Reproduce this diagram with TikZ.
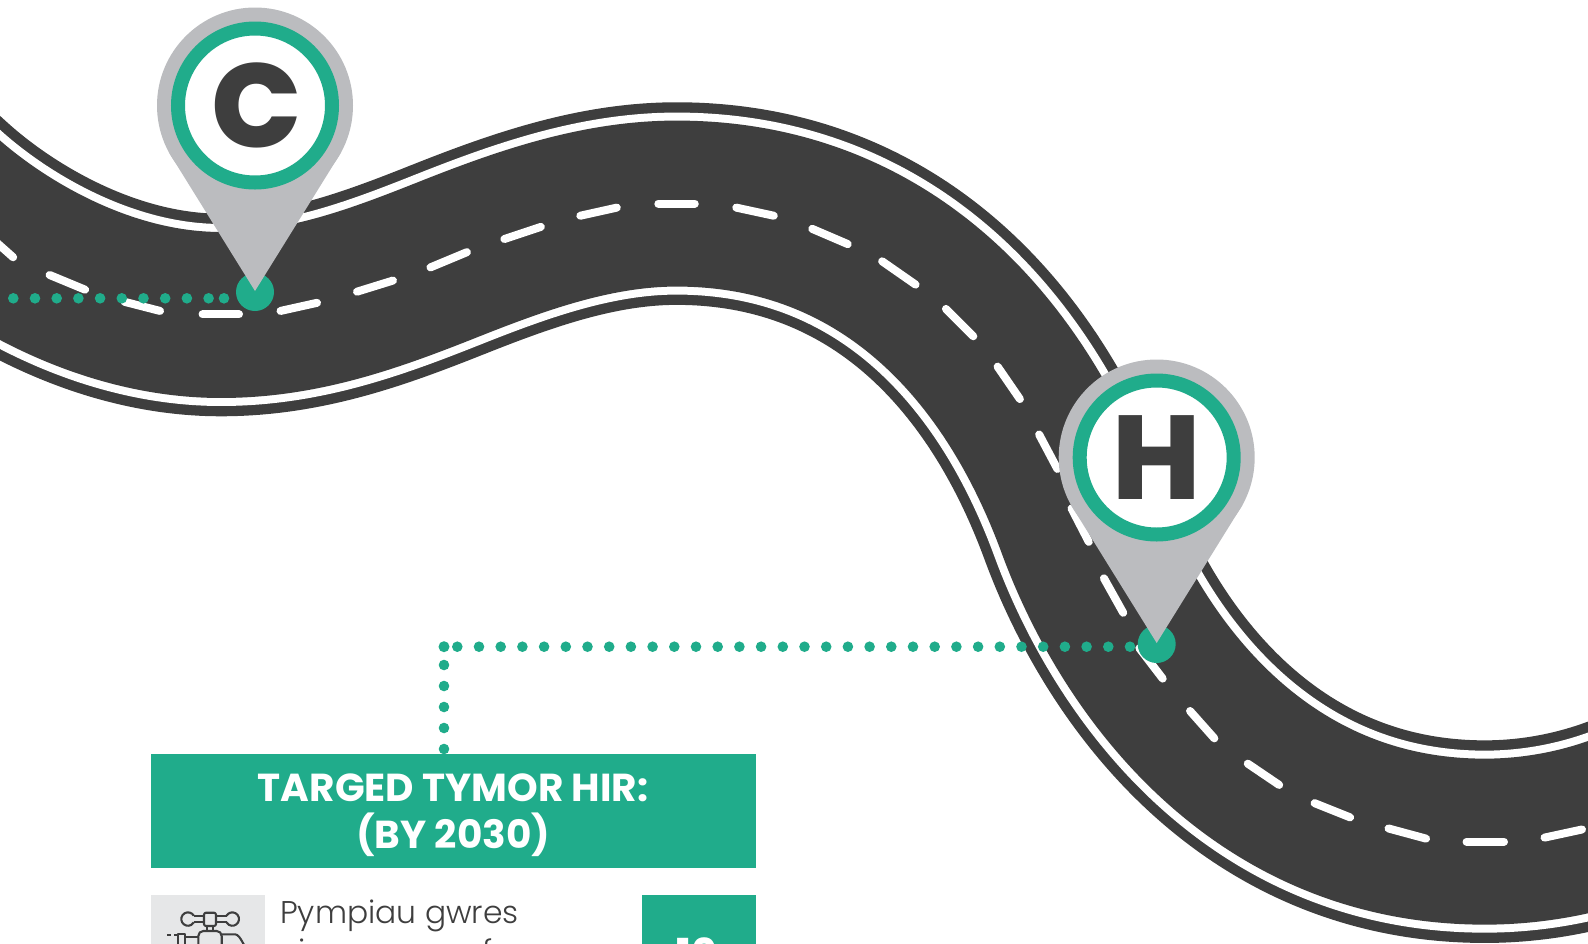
\documentclass[tikz,border=0pt]{standalone}
\usepackage{fontspec}
\setmainfont{Poppins}
\newfontfamily\fheavy{Poppins ExtraBold}
\newfontfamily\fbold{Poppins Bold}
\newfontfamily\flight{Poppins Light}
\definecolor{roadc}{HTML}{3E3E3E}
\definecolor{greenc}{HTML}{20AC8B}
\definecolor{pinc}{HTML}{BBBCBF}
\definecolor{tilec}{HTML}{E6E7E8}
\tikzset{
  roadpath/.style={line join=round},
  lanedash/.style={white,line width=8pt,line cap=round},
  dotline/.style={greenc,line width=10.6pt,line cap=round,dash pattern=on 0pt off 21.7pt},
  pinface/.style={circle,draw=greenc,fill=white,line width=14pt,minimum size=154pt,inner sep=0pt,text=roadc,font=\fontsize{119}{119}\fheavy},
  greenbox/.style={fill=greenc,inner sep=0pt,text=white},
  iconline/.style={draw=roadc,line width=2.1pt,line join=round}
}
\newcommand{\roadline}{(-190,77) -- (-60,195) .. controls (-5,245) and (100,311) .. (218,311)
  .. controls (300,311) and (370,285) .. (443,256)
  .. controls (516,227) and (590,201) .. (668,201)
  .. controls (860,201) and (995,325) .. (1066,518)
  .. controls (1116,654) and (1240,831) .. (1466,831)
  .. controls (1530,831) and (1590,815) .. (1640,790)}
\newcommand{\pinshape}[2]{%
  \fill[pinc] (#1,#2) circle (98pt);
  \fill[pinc] (#1-86,#2+47) -- (#1+86,#2+47) -- (#1,#2+185.5) -- cycle;
}
\begin{document}
\begin{tikzpicture}[x=1pt,y=-1pt]
\useasboundingbox (0,0) rectangle (1588,943);
\clip (0,0) rectangle (1588,943);
% road
\begin{scope}[scale=1.0128]
  \draw[roadc,line width=202.6pt,roadpath] \roadline;
  \draw[white,line width=182pt,roadpath] \roadline;
  \draw[roadc,line width=166pt,roadpath] \roadline;
  \foreach \a/\b in {
    {(-5,238)}/{(13,254)},{(49,271.5)}/{(84,286)},{(123,298)}/{(158,307)},{(200,310.5)}/{(236,310.5)},
    {(277,307)}/{(313,299)},{(352.5,288)}/{(388,277)},{(425,264)}/{(461,249)},{(498,236)}/{(534,224)},
    {(573,213)}/{(609,205)},{(650,201)}/{(686,201)},{(727,205)}/{(764,213)},{(802,226)}/{(837,241)},
    {(871,258)}/{(904,281)},{(934,305)}/{(961,332)},{(985,362)}/{(1007,394)},{(1026,429)}/{(1044,463)},
    {(1058,502)}/{(1075,535)},{(1090,571)}/{(1109,605)},{(1125,640)}/{(1148,670)},{(1175,702)}/{(1199,729)},
    {(1232,754)}/{(1263,775)},{(1298,793)}/{(1333,807)},{(1371,818)}/{(1408,828)},{(1448,831)}/{(1485,831)},
    {(1525,827)}/{(1562,819)}}
    {\draw[lanedash] \a -- \b;}
\end{scope}
% anchors of the dotted connectors
\coordinate (cStart) at (13.3,298.3);
\coordinate (cEnd) at (210,298.3);
\coordinate (cLast) at (224,298.3);
\coordinate (hStart) at (1130,646.7);
\coordinate (corner) at (444,646.7);
\coordinate (hStop) at (457,646.7);
\coordinate (vStart) at (444,749);
\coordinate (vStop) at (444,664);
% target box
\node[greenbox,minimum width=604.7pt,minimum height=114.5pt] (target) at (453.2,810.8) {};
\node[inner sep=0pt,text=white,align=center,font=\fontsize{39}{47.5}\fbold] (targetText) at (453.2,815) {TARGED TYMOR HIR:\\(BY 2030)};
% connectors
\draw[dotline] (cStart) -- (cEnd);
\fill[greenc] (cLast) circle (5.3pt);
\draw[dotline] (hStart) -- (hStop);
\draw[dash pattern=on 0pt off 21pt,greenc,line width=10.6pt,line cap=round] (vStart) -- (vStop);
\fill[greenc] (corner) circle (5.5pt);
% pins
\fill[greenc] (255,292) circle (19pt);
\fill[greenc] (1156.7,644) circle (19pt);
\pinshape{255}{105.5}
\pinshape{1156.7}{457.5}
\node[pinface] (pinC) at (255,105.5) {\raisebox{-1.5pt}{\hspace{3pt}C}};
\node[pinface] (pinH) at (1156.7,457.5) {\raisebox{-1.5pt}{H}};
% row
\fill[tilec] (150.9,895) rectangle (265.4,960);
\node[greenbox,minimum width=113.6pt,minimum height=60pt,anchor=north west] (val) at (642,895) {};
\node[anchor=base west,inner sep=0pt,text=roadc,font=\fontsize{31.4}{32}\flight] (label) at (280,923.5) {Pympiau gwres};
\node[anchor=base,inner sep=0pt,text=roadc,font=\fontsize{31.4}{32}\flight] (labelI) at (301.7,962) {i};
\node[anchor=base,inner sep=0pt,text=roadc,font=\fontsize{31.4}{32}\flight] (labelF) at (488,962) {f};
\node[anchor=base,inner sep=0pt,text=white,font=\fontsize{40}{40}\fbold] (num) at (697,967) {10};
% tap icon
\draw[iconline] (193.8,915.7) -- (204,915.7) (193.8,922.3) -- (204,922.3) (216,915.7) -- (226.5,915.7) (216,922.3) -- (226.5,922.3);
\draw[iconline] (193.8,915.7) arc[start angle=-30,end angle=-330,radius=6.7];
\draw[iconline] (226.5,915.7) arc[start angle=210,end angle=510,radius=6.7];
\draw[iconline,rounded corners=2pt] (204,912.7) rectangle (216,926);
\draw[iconline] (206.7,926) -- (206.7,931) (213.3,926) -- (213.3,931);
\draw[iconline,rounded corners=5pt] (198.3,950) -- (198.3,931) -- (221.7,931) -- (221.7,950);
\draw[iconline] (221.7,934.3) -- (235,934.3) to[out=0,in=-100] (246,945);
\draw[iconline] (185,937) -- (198.3,937) (178,950) -- (178,934.3) -- (185,934.3) -- (185,950);
\draw[iconline] (167,934.7) -- (171,934.7) (174,934.7) -- (178,934.7);
\end{tikzpicture}
\end{document}
